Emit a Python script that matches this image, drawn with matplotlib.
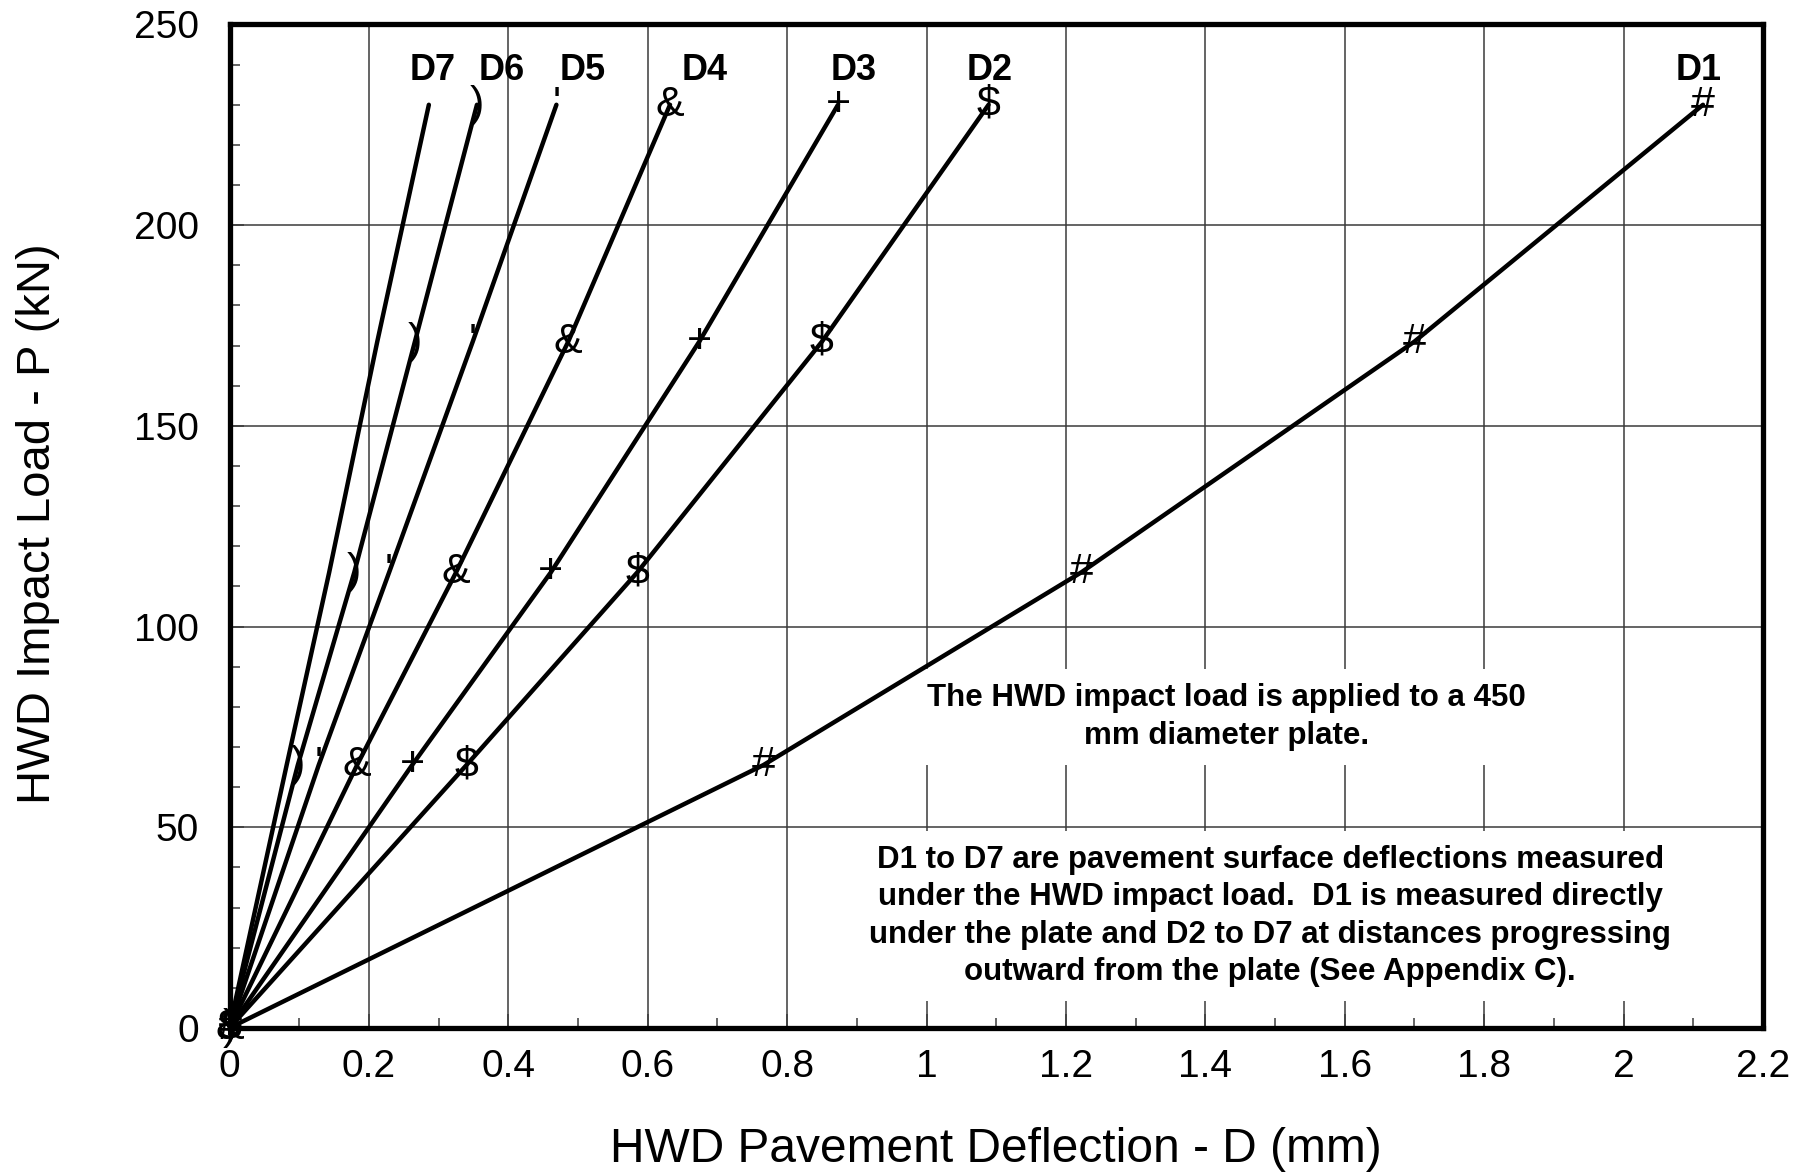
import matplotlib
matplotlib.use("Agg")
import matplotlib.pyplot as plt
from matplotlib.ticker import MultipleLocator

plt.rcParams['font.family'] = ['Liberation Sans', 'DejaVu Sans']

# HWD impact load levels (kN), shared by all sensors
load_kN = [0, 65.5, 113.5, 171, 230]

# Surface deflections (mm) for each sensor at the load levels above
sensors = ["D1", "D2", "D3", "D4", "D5", "D6", "D7"]
defl_D1 = [0, 0.766, 1.222, 1.700, 2.114]
defl_D2 = [0, 0.340, 0.585, 0.850, 1.089]
defl_D3 = [0, 0.262, 0.461, 0.674, 0.873]
defl_D4 = [0, 0.183, 0.325, 0.486, 0.632]
defl_D5 = [0, 0.128, 0.229, 0.349, 0.469]
defl_D6 = [0, 0.098, 0.179, 0.266, 0.355]
defl_D7 = [0, 0.082, 0.143, 0.212, 0.286]
deflections = [defl_D1, defl_D2, defl_D3, defl_D4, defl_D5, defl_D6, defl_D7]

# Character used as the point symbol for each sensor
symbols = ["#", "$", "+", "&", "'", ")", ""]

# Sensor label positions (mm, kN)
label_x = [2.108, 1.090, 0.896, 0.682, 0.507, 0.391, 0.292]
label_y = 238.5

note_top = "The HWD impact load is applied to a 450\nmm diameter plate."
note_bottom = ("D1 to D7 are pavement surface deflections measured\n"
               "under the HWD impact load.  D1 is measured directly\n"
               "under the plate and D2 to D7 at distances progressing\n"
               "outward from the plate (See Appendix C).")

fig = plt.figure(figsize=(18.1, 11.72), dpi=100)
ax = fig.add_axes([0.1268, 0.1229, 0.974 - 0.1268, 0.9791 - 0.1229])

for name, d, sym in zip(sensors, deflections, symbols):
    ax.plot(d, load_kN, color="black", lw=3.2, solid_capstyle="round", zorder=4)
    if sym:
        for xv, yv in zip(d, load_kN):
            ax.text(xv, yv, sym, ha="center", va="center", fontsize=31,
                    color="black", zorder=5)

for name, lx in zip(sensors, label_x):
    ax.text(lx, label_y, name, ha="center", va="center", fontsize=26,
            fontweight="bold", zorder=6)

box = dict(boxstyle="square,pad=0.45", facecolor="white", edgecolor="none")
ax.text(1.430, 77.5, note_top, ha="center", va="center", fontsize=22.5,
        fontweight="bold", linespacing=1.33, bbox=box, zorder=3)
ax.text(1.493, 27.9, note_bottom, ha="center", va="center", fontsize=22.5,
        fontweight="bold", linespacing=1.33, bbox=box, zorder=3)

ax.set_xlim(0, 2.2)
ax.set_ylim(0, 250)
ax.xaxis.set_major_locator(MultipleLocator(0.2))
ax.xaxis.set_minor_locator(MultipleLocator(0.1))
ax.yaxis.set_major_locator(MultipleLocator(50))
ax.yaxis.set_minor_locator(MultipleLocator(10))
ax.set_xticks([0, 0.2, 0.4, 0.6, 0.8, 1.0, 1.2, 1.4, 1.6, 1.8, 2.0, 2.2])
ax.set_xticklabels(["0", "0.2", "0.4", "0.6", "0.8", "1", "1.2", "1.4",
                    "1.6", "1.8", "2", "2.2"])

ax.grid(which="major", color="#3a3a3a", lw=1.1, zorder=1)
ax.set_axisbelow(True)
ax.tick_params(which="both", direction="in", width=1.1, color="#3a3a3a",
               top=False, right=False)
ax.tick_params(which="major", length=10)
ax.tick_params(which="minor", length=7)
ax.tick_params(axis="x", which="major", labelsize=28, pad=15)
ax.tick_params(axis="y", which="major", labelsize=28, pad=22)

for sp in ax.spines.values():
    sp.set_linewidth(3.8)
    sp.set_zorder(7)

ax.set_xlabel("HWD Pavement Deflection - D (mm)", fontsize=34.5)
ax.set_ylabel("HWD Impact Load - P (kN)", fontsize=34)
ax.xaxis.set_label_coords(0.5, -0.0987)
ax.yaxis.set_label_coords(-0.1105, 0.503)

fig.savefig("out.png", dpi=100)
